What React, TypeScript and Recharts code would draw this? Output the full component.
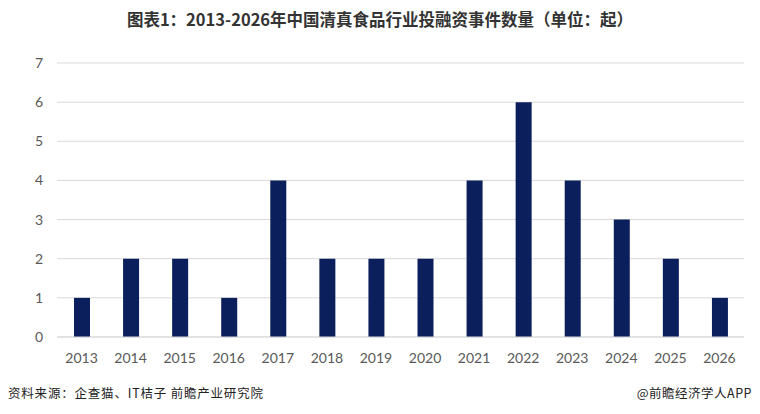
import React from "react";
import { BarChart, Bar, XAxis, YAxis, CartesianGrid } from "recharts";

const years = ["2013","2014","2015","2016","2017","2018","2019","2020","2021","2022","2023","2024","2025","2026"];
const counts = [1, 2, 2, 1, 4, 2, 2, 2, 4, 6, 4, 3, 2, 1];
const yTicks = [0, 1, 2, 3, 4, 5, 6, 7];
const title = "图表1：2013-2026年中国清真食品行业投融资事件数量（单位：起）";
const source = "资料来源：企查猫、IT桔子 前瞻产业研究院";
const credit = "@前瞻经济学人APP";

const data = years.map((y, i) => ({ year: y, value: counts[i] }));

export default function App() {
  return (
    <div style={{ position: "absolute", left: 0, top: 0, width: 760, height: 414, background: "#fff", fontFamily: "'Noto Sans CJK SC', sans-serif" }}>
      <div style={{ position: "absolute", left: 0, top: 7, width: 760, textAlign: "center", fontSize: 16.5, fontWeight: 700, color: "#333" }}>
        {title}
      </div>
      <BarChart width={760} height={414} data={data} margin={{ top: 63, right: 16, bottom: 47, left: 0 }}>
        <CartesianGrid vertical={false} stroke="#d9d9d9" />
        <XAxis dataKey="year" height={30} axisLine={{ stroke: "#d9d9d9" }} tickLine={false} tickMargin={10}
          tick={{ fill: "#595959", fontSize: 14, fontFamily: "Lato, sans-serif" }} interval={0} />
        <YAxis width={57} domain={[0, 7]} ticks={yTicks} axisLine={false} tickLine={false} tickSize={0} tickMargin={14}
          tick={{ fill: "#595959", fontSize: 14, fontFamily: "Lato, sans-serif" }} />
        <Bar dataKey="value" fill="#0b1f5c" barSize={16} isAnimationActive={false} />
      </BarChart>
      <div style={{ position: "absolute", left: 8, top: 383, fontSize: 12.5, letterSpacing: 0.8, color: "#222" }}>{source}</div>
      <div style={{ position: "absolute", right: 8, top: 383, fontSize: 12.5, letterSpacing: 0.5, color: "#222" }}>{credit}</div>
    </div>
  );
}
